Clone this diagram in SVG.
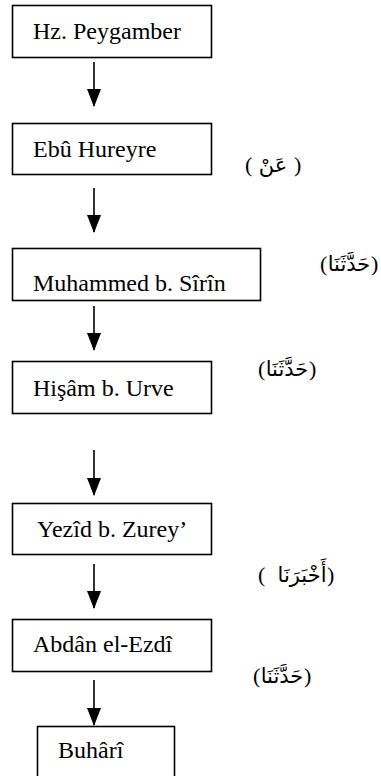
<svg xmlns="http://www.w3.org/2000/svg" width="381" height="776" viewBox="0 0 381 776">
<style>
.box{fill:#fff;stroke:#000;stroke-width:1.6}
.lbl{font-family:"Liberation Serif","Times New Roman",serif;font-size:24px;fill:#000}
.p{font-family:"Liberation Serif","Times New Roman",serif;font-size:22px;fill:#000;direction:ltr}
.w{font-family:"DejaVu Sans",sans-serif;font-size:21px;fill:#000;text-anchor:middle}
.con line{stroke:#000;stroke-width:1.6}
</style>
<defs>
<marker id="ah" markerUnits="userSpaceOnUse" markerWidth="18" markerHeight="14" refX="17" refY="7" orient="auto" viewBox="0 0 18 14">
<path d="M0,0 L18,7 L0,14 Z" fill="#000"/>
</marker>
</defs>
<g id="connectors" class="con">
<line x1="94" y1="62" x2="94" y2="106" marker-end="url(#ah)"/>
<line x1="94" y1="188" x2="94" y2="232" marker-end="url(#ah)"/>
<line x1="94" y1="306" x2="94" y2="350" marker-end="url(#ah)"/>
<line x1="94" y1="450" x2="94" y2="495" marker-end="url(#ah)"/>
<line x1="94" y1="564" x2="94" y2="608" marker-end="url(#ah)"/>
<line x1="94" y1="680" x2="94" y2="725" marker-end="url(#ah)"/>
</g>
<g id="n1"><rect class="box" x="12.5" y="5.5" width="199" height="52"/><text class="lbl" x="33" y="39">Hz. Peygamber</text></g>
<g id="n2"><rect class="box" x="12.5" y="123.5" width="199" height="51"/><text class="lbl" x="33" y="157">Ebû Hureyre</text></g>
<g id="n3"><rect class="box" x="12.5" y="248.5" width="248" height="52"/><text class="lbl" x="33" y="291">Muhammed b. Sîrîn</text></g>
<g id="n4"><rect class="box" x="12.5" y="361.5" width="199" height="52"/><text class="lbl" x="33" y="396">Hişâm b. Urve</text></g>
<g id="n5"><rect class="box" x="12.5" y="503.5" width="199" height="51"/><text class="lbl" x="37" y="537">Yezîd b. Zurey’</text></g>
<g id="n6"><rect class="box" x="12.5" y="619.5" width="199" height="52"/><text class="lbl" x="33" y="652">Abdân el-Ezdî</text></g>
<g id="n7"><rect class="box" x="37.5" y="726.5" width="137" height="70"/><text class="lbl" x="58" y="758">Buhârî</text></g>
<g id="lbl-an"><text class="p" x="245" y="172">(</text><text class="w" x="273" y="172">عَنْ</text><text class="p" x="294" y="172">)</text></g>
<g id="lbl-haddesena-1"><text class="p" x="320" y="271">(</text><text class="w" x="349" y="271">حَدَّثَنَا</text><text class="p" x="371" y="271">)</text></g>
<g id="lbl-haddesena-2"><text class="p" x="258" y="376">(</text><text class="w" x="287" y="376">حَدَّثَنَا</text><text class="p" x="309" y="376">)</text></g>
<g id="lbl-ahberena"><text class="p" x="258" y="582">(</text><text class="w" x="302" y="582">أَخْبَرَنَا</text><text class="p" x="327" y="582">)</text></g>
<g id="lbl-haddesena-3"><text class="p" x="253" y="683">(</text><text class="w" x="282" y="683">حَدَّثَنَا</text><text class="p" x="304" y="683">)</text></g>
</svg>
